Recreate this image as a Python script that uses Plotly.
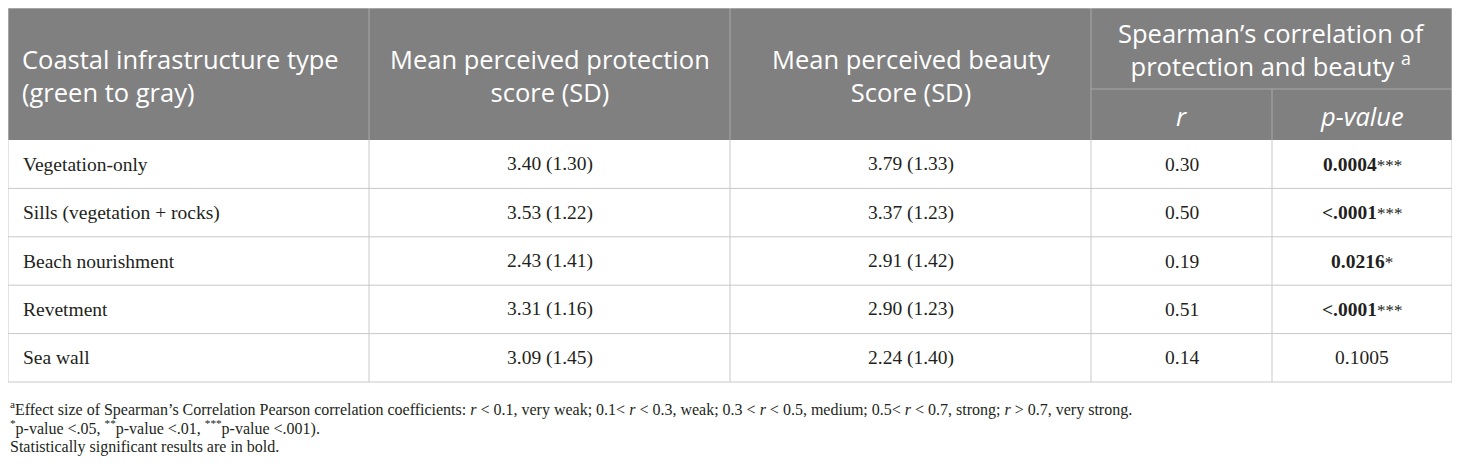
import plotly.graph_objects as go

# ---------------- data ----------------
infra_types = ["Vegetation-only", "Sills (vegetation + rocks)", "Beach nourishment", "Revetment", "Sea wall"]
protection_mean = [3.40, 3.53, 2.43, 3.31, 3.09]
protection_sd = [1.30, 1.22, 1.41, 1.16, 1.45]
beauty_mean = [3.79, 3.37, 2.91, 2.90, 2.24]
beauty_sd = [1.33, 1.23, 1.42, 1.23, 1.40]
spearman_r = [0.30, 0.50, 0.19, 0.51, 0.14]
p_values = ["0.0004", "<.0001", "0.0216", "<.0001", "0.1005"]
p_stars = ["***", "***", "*", "***", ""]
significant = [True, True, True, True, False]

header_cols = ["Coastal infrastructure type<br>(green to gray)",
               "Mean perceived protection<br>score (SD)",
               "Mean perceived beauty<br>Score (SD)"]
header_group = "Spearman\u2019s correlation of<br>protection and beauty <sup>a</sup>"
header_sub = ["<i>r</i>", "<i>p-value</i>"]
footnotes = [
    "<sup>a</sup>Effect size of Spearman\u2019s Correlation Pearson correlation coefficients: <i>r</i> &lt; 0.1, very weak; 0.1&lt; <i>r</i> &lt; 0.3, weak; 0.3 &lt; <i>r</i> &lt; 0.5, medium; 0.5&lt; <i>r</i> &lt; 0.7, strong; <i>r</i> &gt; 0.7, very strong.",
    "<sup>*</sup>p-value &lt;.05, <sup>**</sup>p-value &lt;.01, <sup>***</sup>p-value &lt;.001).",
    "Statistically significant results are in bold.",
]

# ---------------- layout geometry (page pixel coordinates) ----------------
PAGE_W, PAGE_H = 1460, 468
OFF = 8  # default body margin of the html page
col_x = [8, 369, 730, 1091, 1272, 1452]
head_top, head_mid, head_bot = 8, 89, 140
row_h = 48.4
n = len(infra_types)
row_y = [head_bot + i * row_h for i in range(n + 1)]

HEAD_BG = "#808080"
HEAD_LINE = "#a8a8a8"
BODY_LINE = "#c9c9c9"
TXT = "#231f20"
SANS = "Open Sans"
SERIF = "Liberation Serif"
HF = 25.5   # header font size
BF = 19.5   # body font size
FF = 16     # footnote font size

shapes = []
annotations = []

def line(x0, y0, x1, y1, color, w=1):
    shapes.append(dict(type="line", xref="x", yref="y", x0=x0, y0=y0, x1=x1, y1=y1,
                       line=dict(color=color, width=w), layer="above"))

# header background
shapes.append(dict(type="rect", xref="x", yref="y", x0=col_x[0], x1=col_x[-1], y0=head_top, y1=head_bot,
                   fillcolor=HEAD_BG, line=dict(width=0), layer="below"))

# header lines
for cx in col_x[1:4]:
    line(cx, head_top, cx, head_bot, HEAD_LINE)
line(col_x[4], head_mid, col_x[4], head_bot, HEAD_LINE)
line(col_x[3], head_mid, col_x[5], head_mid, HEAD_LINE)
line(col_x[0], head_top, col_x[5], head_top, BODY_LINE)

# body lines
for cx in col_x:
    line(cx, head_bot, cx, row_y[-1], BODY_LINE)
line(col_x[0], head_top, col_x[0], head_bot, BODY_LINE)
line(col_x[5], head_top, col_x[5], head_bot, BODY_LINE)
for ry in row_y[1:]:
    line(col_x[0], ry, col_x[5], ry, BODY_LINE)

def ann(x, y, text, size, font, color, xanchor="center"):
    annotations.append(dict(x=x, y=y, xref="x", yref="y", text=text, showarrow=False,
                            xanchor=xanchor, yanchor="middle", align="left" if xanchor == "left" else "center",
                            font=dict(family=font, size=size, color=color)))

# header texts
hy = (head_top + head_bot) / 2 + 1
ann(col_x[0] + 12, hy, header_cols[0], HF, SANS, "white", "left")
ann((col_x[1] + col_x[2]) / 2, hy, header_cols[1], HF, SANS, "white")
ann((col_x[2] + col_x[3]) / 2, hy, header_cols[2], HF, SANS, "white")
ann((col_x[3] + col_x[5]) / 2, (head_top + head_mid) / 2 + 1, header_group, HF, SANS, "white")
ann((col_x[3] + col_x[4]) / 2, (head_mid + head_bot) / 2 + 1, header_sub[0], HF, SANS, "white")
ann((col_x[4] + col_x[5]) / 2, (head_mid + head_bot) / 2 + 1, header_sub[1], HF, SANS, "white")

# body texts
for i in range(n):
    cy = (row_y[i] + row_y[i + 1]) / 2
    ann(col_x[0] + 13, cy, infra_types[i], BF, SERIF, TXT, "left")
    ann((col_x[1] + col_x[2]) / 2, cy, f"{protection_mean[i]:.2f} ({protection_sd[i]:.2f})", BF, SERIF, TXT)
    ann((col_x[2] + col_x[3]) / 2, cy, f"{beauty_mean[i]:.2f} ({beauty_sd[i]:.2f})", BF, SERIF, TXT)
    ann((col_x[3] + col_x[4]) / 2, cy, f"{spearman_r[i]:.2f}", BF, SERIF, TXT)
    pv = p_values[i].replace("<", "&lt;")
    ptxt = (f"<b>{pv}</b>" if significant[i] else pv) + \
           (f"<span style='font-size:17px'>{p_stars[i]}</span>" if p_stars[i] else "")
    ann((col_x[4] + col_x[5]) / 2, cy, ptxt, BF, SERIF, TXT)

# footnotes
for k, t in enumerate(footnotes):
    ann(col_x[0], 408 + k * 19.5, t, FF, SERIF, TXT, "left")

fig = go.Figure()
fig.add_trace(go.Scatter(x=[OFF, PAGE_W], y=[OFF, PAGE_H], mode="markers", marker=dict(opacity=0),
                         hoverinfo="skip", showlegend=False))
fig.update_layout(
    width=PAGE_W - OFF, height=PAGE_H - OFF, margin=dict(l=0, r=0, t=0, b=0),
    paper_bgcolor="white", plot_bgcolor="white",
    xaxis=dict(range=[OFF, PAGE_W], visible=False, fixedrange=True),
    yaxis=dict(range=[PAGE_H, OFF], visible=False, fixedrange=True),
    shapes=shapes, annotations=annotations, showlegend=False,
)
fig.write_html("out.html", config={"displayModeBar": False})
